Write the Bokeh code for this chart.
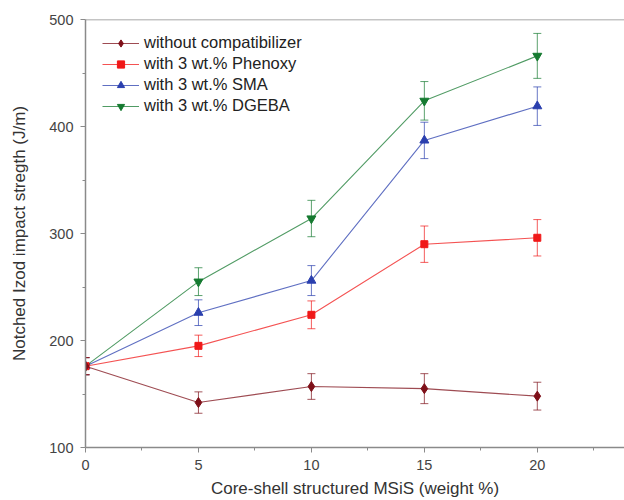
from bokeh.plotting import figure
from bokeh.models import (ColumnDataSource, Whisker, TeeHead, Legend, LegendItem,
                          Span, FixedTicker, Range1d)
from bokeh.embed import file_html
from bokeh.resources import INLINE

x = [0, 5, 10, 15, 20]
without = [176, 142, 157, 155, 148]
without_err = [8, 10, 12, 14, 13]
phenoxy = [176, 195, 224, 290, 296]
phenoxy_err = [8, 10, 13, 17, 17]
sma = [176, 226, 256, 387, 419]
sma_err = [8, 12, 14, 17, 18]
dgeba = [176, 255, 314, 424, 466]
dgeba_err = [8, 13, 17, 18, 21]

labels = ["without compatibilizer", "with 3 wt.% Phenoxy", "with 3 wt.% SMA", "with 3 wt.% DGEBA"]
series = [without, phenoxy, sma, dgeba]
errors = [without_err, phenoxy_err, sma_err, dgeba_err]
colors = ["#7e0f18", "#f01818", "#2a3fae", "#157a30"]
markers = ["diamond", "square", "triangle", "inverted_triangle"]
msizes = [10, 7, 9, 9]

FONT = "Liberation Sans"

p = figure(width=624, height=500, output_backend="svg", toolbar_location=None,
           x_range=Range1d(0, 23.86), y_range=Range1d(100, 500),
           min_border_left=85, min_border_top=19, min_border_bottom=53, min_border_right=0)
p.outline_line_color = None
p.grid.visible = False
p.background_fill_color = "white"

for ax in (p.xaxis[0], p.yaxis[0]):
    ax.axis_line_color = "#8a8a8a"
    ax.axis_line_width = 1.5
    ax.major_tick_line_color = "#8a8a8a"
    ax.minor_tick_line_color = "#8a8a8a"
    ax.major_tick_out = 5
    ax.major_tick_in = 0
    ax.minor_tick_out = 3
    ax.minor_tick_in = 0
    ax.major_label_text_font = FONT
    ax.major_label_text_font_size = "14.5px"
    ax.major_label_text_color = "#444444"
    ax.axis_label_text_font = FONT
    ax.axis_label_text_font_size = "17px"
    ax.axis_label_text_font_style = "normal"
    ax.axis_label_text_color = "#333333"

p.xaxis[0].ticker = FixedTicker(ticks=[0, 5, 10, 15, 20], minor_ticks=[2.5, 7.5, 12.5, 17.5, 22.5])
p.yaxis[0].ticker = FixedTicker(ticks=[100, 200, 300, 400, 500], minor_ticks=[150, 250, 350, 450])
p.xaxis[0].axis_label = "Core-shell structured MSiS (weight %)"
p.yaxis[0].axis_label = "Notched Izod impact stregth (J/m)"
p.xaxis[0].major_label_standoff = 7
p.yaxis[0].major_label_standoff = 7
p.xaxis[0].axis_label_standoff = 6
p.yaxis[0].axis_label_standoff = 17

p.add_layout(Span(location=500, dimension="width", line_color="#8a8a8a", line_width=1.5))

items = []
for i in reversed(range(4)):
    y = series[i]
    e = errors[i]
    src = ColumnDataSource(dict(x=x, y=y,
                                lo=[a - b for a, b in zip(y, e)],
                                hi=[a + b for a, b in zip(y, e)]))
    w = Whisker(source=src, base="x", lower="lo", upper="hi", line_color=colors[i],
                line_alpha=0.7, line_width=1,
                upper_head=TeeHead(size=8, line_color=colors[i], line_alpha=0.7),
                lower_head=TeeHead(size=8, line_color=colors[i], line_alpha=0.7))
    p.add_layout(w)
    ln = p.line("x", "y", source=src, line_color=colors[i], line_alpha=0.75, line_width=1.1)
    mk = p.scatter("x", "y", source=src, marker=markers[i], size=msizes[i],
                   fill_color=colors[i], line_color=colors[i])
    items.append(LegendItem(label=labels[i], renderers=[ln, mk]))

items = list(reversed(items))
legend = Legend(items=items, location=(17, 332))
legend.border_line_color = None
legend.background_fill_alpha = 0
legend.label_text_font = FONT
legend.label_text_font_size = "16.5px"
legend.label_text_color = "#222222"
legend.glyph_width = 37
legend.glyph_height = 18
legend.spacing = 2
legend.margin = 0
legend.padding = 6
legend.label_standoff = 5
legend.label_height = 18
p.add_layout(legend)

open("out.html", "w").write(file_html(p, INLINE))
